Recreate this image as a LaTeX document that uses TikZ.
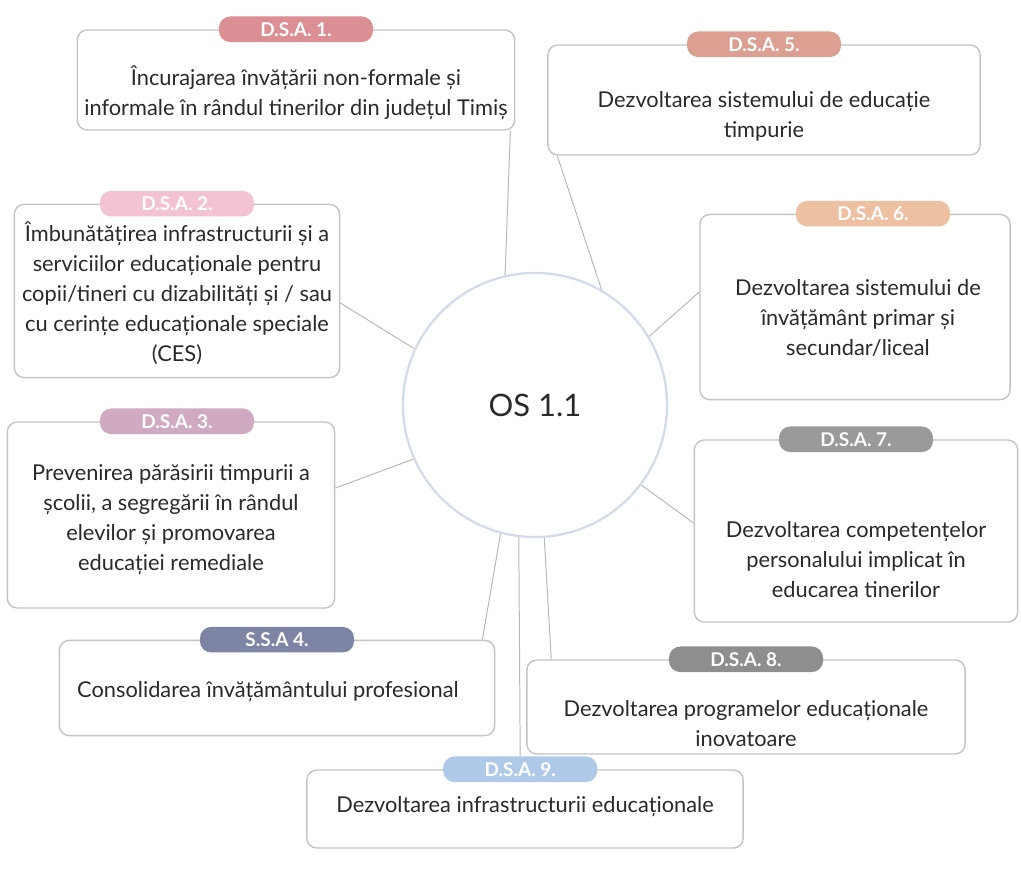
\documentclass[tikz,border=0pt]{standalone}
\usepackage{fontspec}
\setmainfont{Lato}
\usetikzlibrary{calc}
\definecolor{boxline}{HTML}{C4C4C4}
\definecolor{linkgrey}{HTML}{B8B8B8}
\definecolor{ink}{HTML}{2A2A2A}
\definecolor{ringblue}{HTML}{D3DBE8}
\definecolor{tagA}{HTML}{DC8E95}
\definecolor{tagB}{HTML}{F3C3D3}
\definecolor{tagC}{HTML}{CFAAC0}
\definecolor{tagD}{HTML}{7E84A4}
\definecolor{tagE}{HTML}{DCA092}
\definecolor{tagF}{HTML}{EDC0A2}
\definecolor{tagG}{HTML}{9A9A9A}
\definecolor{tagH}{HTML}{8E8E8E}
\definecolor{tagI}{HTML}{AECAE8}
\tikzset{
  box/.style={draw=boxline, line width=1pt, rounded corners=7pt, fill=white},
  txt/.style={align=center, text=ink, font=\fontsize{15.5}{21.3}\selectfont},
  tag/.style={rounded corners=8pt, minimum width=3.85cm, minimum height=0.64cm, inner sep=0pt,
    text=white, font=\bfseries\fontsize{13.5}{15}\selectfont},
  link/.style={draw=linkgrey, line width=0.7pt}
}
\begin{document}
\begin{tikzpicture}[x=0.025cm, y=-0.025cm]
\useasboundingbox (0,0) rectangle (1021,873);

% centre
\node[circle, draw=ringblue, line width=1.6pt, fill=white, minimum size=6.6cm,
  font=\fontsize{22}{26}\selectfont, text=ink] (os) at (535,405) {OS 1.1};

% left column
\node[box, minimum width=10.93cm, minimum height=2.5cm] (b1) at (296,80) {};
\node[tag, fill=tagA] (t1) at (b1.north) {D.S.A. 1.};
\node[txt] (d1) at (296,93) {Încurajarea învățării non-formale și\\informale în rândul tinerilor din județul Timiș};

\node[box, minimum width=8.13cm, minimum height=4.33cm] (b2) at (177,291) {};
\node[tag, fill=tagB] (t2) at (b2.north) {D.S.A. 2.};
\node[txt] (d2) at (177,293) {Îmbunătățirea infrastructurii și a\\serviciilor educaționale pentru\\copii/tineri cu dizabilități și / sau\\cu cerințe educaționale speciale\\(CES)};

\node[box, minimum width=8.18cm, minimum height=4.65cm] (b3) at (171,515) {};
\node[tag, fill=tagC] (t3) at ([xshift=0.15cm]b3.north) {D.S.A. 3.};
\node[txt] (d3) at (171,520) {Prevenirea părăsirii timpurii a\\școlii, a segregării în rândul\\elevilor și promovarea\\educației remediale};

\node[box, minimum width=10.88cm, minimum height=2.38cm] (b4) at (277,688) {};
\node[tag, fill=tagD] (t4) at (b4.north) {S.S.A 4.};
\node[txt] (d4) at (268,692) {Consolidarea învățământului profesional};

% right column
\node[box, minimum width=10.8cm, minimum height=2.75cm] (b5) at (764,100) {};
\node[tag, fill=tagE] (t5) at (b5.north) {D.S.A. 5.};
\node[txt] (d5) at (764,116) {Dezvoltarea sistemului de educație\\timpurie};

\node[box, minimum width=7.75cm, minimum height=4.63cm] (b6) at (855,307) {};
\node[tag, fill=tagF] (t6) at ([xshift=0.45cm]b6.north) {D.S.A. 6.};
\node[txt] (d6) at (858,318) {Dezvoltarea sistemului de\\învățământ primar și\\secundar/liceal};

\node[box, minimum width=8.08cm, minimum height=4.55cm] (b7) at (856,531) {};
\node[tag, fill=tagG] (t7) at (b7.north) {D.S.A. 7.};
\node[txt] (d7) at (856,560) {Dezvoltarea competențelor\\personalului implicat în\\educarea tinerilor};

\node[box, minimum width=10.95cm, minimum height=2.35cm] (b8) at (746,707) {};
\node[tag, fill=tagH] (t8) at (b8.north) {D.S.A. 8.};
\node[txt] (d8) at (746,724) {Dezvoltarea programelor educaționale\\inovatoare};

% bottom
\node[box, minimum width=10.9cm, minimum height=1.95cm] (b9) at (525,809) {};
\node[tag, fill=tagI] (t9) at ([xshift=-0.12cm]b9.north) {D.S.A. 9.};
\node[txt] (d9) at (525,807) {Dezvoltarea infrastructurii educaționale};

% connector ends
\coordinate (e1) at ($(b1.south east)+(-5,0)$);
\coordinate (e2) at ($(b2.east)+(0,12)$);
\coordinate (e3) at ($(b3.east)+(0,-27)$);
\coordinate (e4) at ($(b4.north east)+(-13,0)$);
\coordinate (e5) at ($(b5.south west)+(10,0)$);
\coordinate (e6) at ($(b6.west)+(0,-15)$);
\coordinate (e7) at ($(b7.west)+(0,-8)$);
\coordinate (e8) at ($(b8.north west)+(25,0)$);
\foreach \a/\e in {103/e1, 155/e2, 204/e3, 255/e4, 60/e5, 31/e6, -37/e7, 274/e8, 263/t9.north}
  \draw[link] (os.\a) -- (\e);
\end{tikzpicture}
\end{document}
